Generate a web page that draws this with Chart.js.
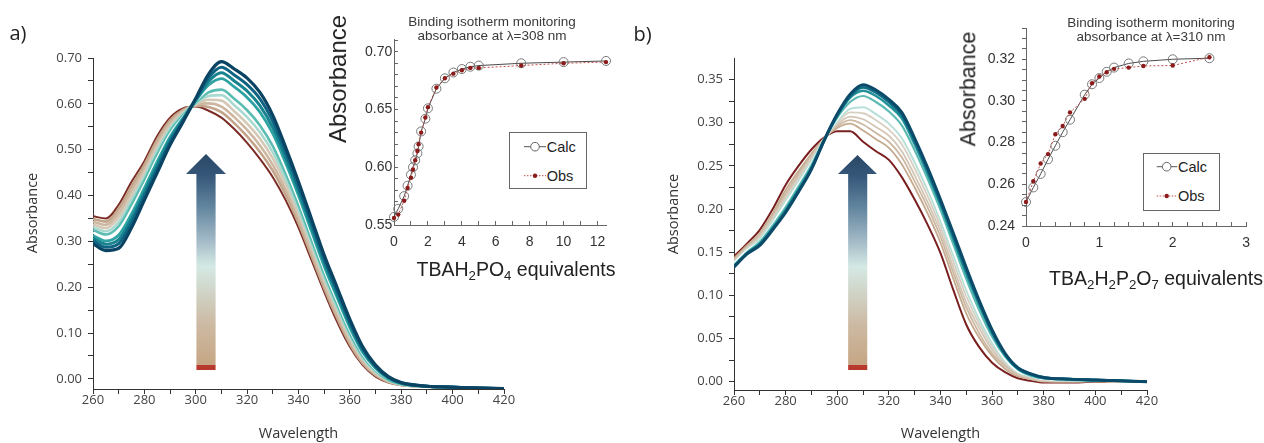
<!DOCTYPE html>
<html>
<head>
<meta charset="utf-8">
<script src="https://cdn.jsdelivr.net/npm/chart.js@4.4.1/dist/chart.umd.min.js"></script>
<style>
  html, body { margin: 0; padding: 0; background: #fff; }
  #fig { position: relative; width: 1264px; height: 443px; overflow: hidden; }
  #fig canvas { position: absolute; top: 0; }
  .t { position: absolute; white-space: nowrap; line-height: 1; transform: translate(-50%, -50%); }
  .r { transform: translate(-50%, -50%) rotate(-90deg); }
  .os { font-family: "Open Sans", sans-serif; color: #333; }
  .ls { font-family: "Liberation Sans", Arial, sans-serif; color: #222; }
  .s { font-size: 0.68em; position: relative; top: 0.32em; }
  .arrow { position: absolute;
    background: linear-gradient(to top, #b83a2e 0, #b83a2e 2.3%, #c6a684 2.5%, #cdbba5 22%, #d4e9e4 48%, #a3bac7 60%, #6487a0 75%, #36577a 90%, #2a4866 100%); }
  .leg { position: absolute; border: 1px solid #666; background: #fff; box-sizing: border-box; }
  .leg span { position: absolute; font: 14.5px "Liberation Sans", Arial, sans-serif; color: #222; line-height: 16px; }
</style>
</head>
<body>
<div id="fig">
  <canvas id="mainA" width="530" height="443" style="left:0"></canvas>
  <canvas id="mainB" width="530" height="443" style="left:640px"></canvas>
  <canvas id="insetA" width="310" height="290" style="left:320px"></canvas>
  <canvas id="insetB" width="309" height="300" style="left:955px"></canvas>

  <div class="arrow" style="left:186px;top:154px;width:40px;height:216px;clip-path:polygon(50% 0,100% 9.3%,74% 9.3%,74% 100%,26% 100%,26% 9.3%,0 9.3%)"></div>
  <div class="arrow" style="left:838px;top:155px;width:39px;height:215px;clip-path:polygon(50% 0,100% 8.8%,75% 8.8%,75% 100%,26% 100%,26% 8.8%,0 8.8%)"></div>

  <div class="t os" style="left:18px;top:32.5px;font-size:20px;color:#222">a)</div>
  <div class="t os" style="left:642.5px;top:34px;font-size:20px;color:#222">b)</div>
  <div class="t r os" style="left:32px;top:212.5px;font-size:14.5px">Absorbance</div>
  <div class="t r os" style="left:673px;top:214px;font-size:14.5px">Absorbance</div>

  <div class="t ls" style="left:492px;top:28.3px;font-size:13.5px;line-height:13.3px;text-align:center;color:#3a3a3a">Binding isotherm monitoring<br>absorbance at λ=308 nm</div>
  <div class="t ls" style="left:1151px;top:29.7px;font-size:13.5px;line-height:14px;text-align:center;color:#3a3a3a">Binding isotherm monitoring<br>absorbance at λ=310 nm</div>
  <div class="t r ls" style="left:338px;top:79px;font-size:24px">Absorbance</div>
  <div class="t r ls" style="left:969px;top:89px;font-size:21.5px">Absorbance</div>
  <div class="t ls" style="left:516px;top:270px;font-size:19.5px">TBAH<span class="s">2</span>PO<span class="s">4</span> equivalents</div>
  <div class="t ls" style="left:1156px;top:279px;font-size:19.5px">TBA<span class="s">2</span>H<span class="s">2</span>P<span class="s">2</span>O<span class="s">7</span> equivalents</div>

  <div class="leg" style="left:509px;top:132px;width:78px;height:57px">
    <svg width="76" height="55" style="position:absolute;left:0;top:0">
      <line x1="14" y1="13.7" x2="36" y2="13.7" stroke="#555" stroke-width="1"/>
      <circle cx="25" cy="13.7" r="4.3" fill="#fff" stroke="#666" stroke-width="1"/>
      <line x1="14" y1="42.7" x2="36" y2="42.7" stroke="#c0504d" stroke-width="1" stroke-dasharray="1.5,1.5"/>
      <circle cx="25" cy="42.7" r="2.2" fill="#8b1a1a"/>
    </svg>
    <span style="left:36.7px;top:5.7px">Calc</span>
    <span style="left:36.7px;top:34.7px">Obs</span>
  </div>
  <div class="leg" style="left:1143px;top:153px;width:77px;height:58px">
    <svg width="75" height="56" style="position:absolute;left:0;top:0">
      <line x1="12.7" y1="12.7" x2="33.3" y2="12.7" stroke="#555" stroke-width="1"/>
      <circle cx="22.7" cy="12.7" r="4.3" fill="#fff" stroke="#666" stroke-width="1"/>
      <line x1="12.7" y1="42" x2="33.3" y2="42" stroke="#c0504d" stroke-width="1" stroke-dasharray="1.5,1.5"/>
      <circle cx="22.7" cy="42" r="2.2" fill="#8b1a1a"/>
    </svg>
    <span style="left:34px;top:4.7px">Calc</span>
    <span style="left:34px;top:34px">Obs</span>
  </div>
</div>

<script>
// wavelength grid (nm) shared by all spectra
var WL = [260, 265, 270, 275, 280, 285, 290, 295, 300, 305, 310, 315, 320, 325, 330, 335, 340, 345, 350, 355, 360, 365, 370, 375, 380, 390, 400, 410, 420];

// panel a spectra, first addition (bottom at 310 nm) to last
var specA0 = [.355, .350, .380, .430, .475, .530, .570, .590, .594, .585, .570, .545, .515, .480, .440, .390, .330, .260, .190, .125, .070, .030, .005, -.008, -.014, -.017, -.019, -.020, -.021];
var specA1 = [.349, .343, .371, .420, .467, .522, .564, .587, .596, .593, .582, .558, .529, .495, .454, .402, .340, .269, .198, .133, .076, .034, .008, -.007, -.013, -.017, -.019, -.020, -.021];
var specA2 = [.343, .336, .361, .410, .458, .514, .558, .584, .598, .601, .594, .571, .543, .509, .467, .413, .350, .278, .206, .140, .082, .038, .010, -.005, -.013, -.017, -.019, -.020, -.021];
var specA3 = [.337, .329, .352, .400, .450, .506, .552, .581, .599, .609, .607, .584, .557, .524, .481, .425, .360, .287, .214, .148, .088, .042, .013, -.004, -.012, -.017, -.019, -.020, -.021];
var specA4 = [.331, .322, .342, .390, .441, .498, .546, .578, .601, .617, .619, .597, .571, .538, .494, .436, .370, .296, .222, .155, .094, .046, .015, -.003, -.012, -.017, -.018, -.020, -.021];
var specA5 = [.325, .315, .333, .380, .433, .490, .540, .575, .603, .625, .631, .611, .586, .553, .508, .448, .380, .305, .230, .163, .100, .050, .018, -.002, -.011, -.016, -.018, -.020, -.021];
var specA6 = [.319, .308, .323, .370, .424, .482, .534, .572, .605, .633, .643, .624, .600, .567, .521, .459, .390, .314, .238, .170, .106, .054, .020, .000, -.010, -.016, -.018, -.020, -.021];
var specA7 = [.313, .301, .314, .360, .416, .474, .528, .569, .607, .641, .655, .637, .614, .582, .535, .471, .400, .323, .246, .178, .112, .058, .023, .001, -.010, -.016, -.018, -.020, -.021];
var specA8 = [.307, .294, .304, .350, .407, .466, .522, .566, .608, .649, .668, .650, .628, .596, .548, .482, .410, .332, .254, .185, .118, .062, .025, .002, -.009, -.016, -.018, -.020, -.021];
var specA9 = [.301, .287, .295, .340, .399, .458, .516, .563, .610, .657, .680, .663, .642, .611, .562, .494, .420, .341, .262, .193, .124, .066, .028, .004, -.009, -.016, -.018, -.020, -.021];
var specA10 = [.295, .280, .285, .330, .390, .450, .510, .560, .612, .665, .692, .676, .656, .625, .575, .505, .430, .350, .270, .200, .130, .070, .030, .005, -.008, -.016, -.018, -.020, -.021];

// panel b spectra
var specB0 = [.145, .160, .176, .200, .228, .250, .269, .283, .290, .290, .278, .267, .257, .237, .211, .182, .149, .106, .066, .040, .022, .011, .004, .001, -.001, -.001, .000, .000, .000];
var specB1 = [.143, .158, .172, .195, .222, .244, .264, .282, .294, .299, .291, .281, .271, .252, .225, .195, .161, .119, .079, .051, .030, .015, .006, .003, .000, .000, .000, .000, .000];
var specB2 = [.141, .156, .171, .193, .218, .241, .262, .282, .296, .303, .298, .288, .278, .260, .232, .202, .168, .126, .086, .056, .033, .018, .008, .003, .001, .000, .001, .000, .000];
var specB3 = [.140, .155, .169, .190, .215, .238, .260, .282, .298, .307, .304, .295, .285, .267, .239, .208, .174, .132, .092, .062, .037, .020, .009, .004, .001, .001, .001, .000, .000];
var specB4 = [.139, .154, .167, .188, .212, .235, .258, .282, .300, .312, .311, .303, .292, .275, .247, .215, .180, .139, .099, .067, .041, .022, .010, .005, .002, .001, .001, .000, .000];
var specB5 = [.138, .153, .165, .186, .209, .232, .255, .281, .302, .316, .318, .310, .299, .282, .254, .222, .186, .146, .106, .072, .045, .024, .011, .006, .003, .001, .001, .001, .000];
var specB6 = [.137, .152, .163, .183, .206, .229, .253, .281, .304, .320, .324, .317, .306, .290, .261, .228, .192, .152, .112, .078, .049, .026, .012, .007, .003, .002, .001, .001, .000];
var specB7 = [.135, .150, .162, .181, .202, .226, .251, .281, .306, .324, .331, .324, .313, .297, .268, .235, .199, .159, .119, .083, .052, .029, .014, .007, .004, .002, .001, .001, .000];
var specB8 = [.134, .149, .160, .178, .199, .223, .248, .280, .308, .329, .337, .331, .320, .305, .275, .241, .205, .165, .125, .089, .056, .031, .015, .008, .004, .003, .002, .001, .000];
var specB9 = [.133, .148, .159, .177, .197, .221, .247, .280, .309, .331, .341, .335, .324, .309, .279, .245, .208, .169, .129, .092, .058, .032, .016, .009, .005, .003, .002, .001, .000];
var specB10 = [.133, .148, .158, .176, .196, .220, .246, .280, .310, .333, .344, .338, .327, .312, .282, .248, .211, .172, .132, .094, .060, .033, .016, .009, .005, .003, .002, .001, .000];

// binding isotherms
var eqA = [0, 0.25, 0.6, 0.8, 1.0, 1.12, 1.25, 1.38, 1.45, 1.6, 1.85, 2.0, 2.5, 3.0, 3.5, 4.0, 4.5, 5.0, 7.5, 10, 12.5];
var calcA = [0.557, 0.564, 0.575, 0.584, 0.5935, 0.600, 0.606, 0.612, 0.618, 0.631, 0.642, 0.651, 0.668, 0.677, 0.682, 0.685, 0.687, 0.688, 0.690, 0.691, 0.692];
var obsA = [0.556, 0.559, 0.571, 0.582, 0.591, 0.598, 0.606, 0.614, 0.620, 0.630, 0.643, 0.652, 0.669, 0.677, 0.681, 0.684, 0.686, 0.686, 0.688, 0.690, 0.691];
var eqB = [0, 0.1, 0.2, 0.3, 0.4, 0.5, 0.6, 0.8, 0.9, 1.0, 1.1, 1.2, 1.4, 1.6, 2.0, 2.5];
var calcB = [0.2515, 0.2585, 0.265, 0.272, 0.2785, 0.285, 0.291, 0.303, 0.308, 0.311, 0.314, 0.316, 0.318, 0.319, 0.320, 0.3205];
var obsB = [0.2515, 0.2615, 0.270, 0.2745, 0.284, 0.288, 0.2945, 0.301, 0.3085, 0.3117, 0.3138, 0.3154, 0.316, 0.3168, 0.317, 0.321];

// tick positions
var ticksWL = [260, 270, 280, 290, 300, 310, 320, 330, 340, 350, 360, 370, 380, 390, 400, 410, 420];
var ticksMainA = [0, 0.05, 0.1, 0.15, 0.2, 0.25, 0.3, 0.35, 0.4, 0.45, 0.5, 0.55, 0.6, 0.65, 0.7];
var ticksMainB = [0, 0.025, 0.05, 0.075, 0.1, 0.125, 0.15, 0.175, 0.2, 0.225, 0.25, 0.275, 0.3, 0.325, 0.35];
var ticksEqA = [0, 1, 2, 3, 4, 5, 6, 7, 8, 9, 10, 11, 12];
var ticksAbsA = [0.55, 0.56, 0.57, 0.58, 0.59, 0.60, 0.61, 0.62, 0.63, 0.64, 0.65, 0.66, 0.67, 0.68, 0.69, 0.70, 0.71];
var ticksEqB = [0, 0.2, 0.4, 0.6, 0.8, 1, 1.2, 1.4, 1.6, 1.8, 2, 2.2, 2.4, 2.6, 2.8, 3];
var ticksAbsB = [0.24, 0.245, 0.25, 0.255, 0.26, 0.265, 0.27, 0.275, 0.28, 0.285, 0.29, 0.295, 0.30, 0.305, 0.31, 0.315, 0.32, 0.325, 0.33, 0.335];

var COLORS_A = ['#7b2c25', '#c2a58a', '#cdb7a0', '#d6c8b6', '#a9d9cf', '#5cbdb2', '#ffffff', '#2fa3a3', '#17838f', '#0e6482', '#0b4363'];
var WIDTHS_A = [2, 2.6, 2.6, 2.6, 2.6, 2.6, 2, 2.8, 3, 3, 3.2];
var COLORS_B = ['#7a1f1f', '#c4aa8e', '#ccb8a2', '#d3c5b4', '#d8cfc3', '#b9e0d8', '#ffffff', '#5cbab2', '#229298', '#0f6d86', '#0c4a69'];
var WIDTHS_B = [2, 1.8, 1.8, 1.8, 1.8, 2, 2, 2.2, 2.5, 2.8, 3];
var AXIS = '#333';

function setTicks(list) {
  return function (s) { s.ticks = list.map(function (v) { return { value: v }; }); };
}

function spectra(id, rows, colors, widths, yMin, yMax, yTicks, yStep, yW, xH, padR) {
  var sets = rows.map(function (row, i) {
    return { data: WL.map(function (w, j) { return { x: w, y: row[j] }; }),
      borderColor: colors[i], borderWidth: widths[i], pointRadius: 0,
      cubicInterpolationMode: 'monotone', fill: false };
  }).reverse();
  var tickFont = { family: 'Open Sans', size: 13, lineHeight: 1 };
  new Chart(document.getElementById(id), {
    type: 'line',
    data: { datasets: sets },
    options: {
      responsive: false, animation: false, devicePixelRatio: 1, events: [],
      layout: { padding: { left: 0, top: 58, right: padR, bottom: 0 } },
      plugins: { legend: { display: false }, tooltip: { enabled: false } },
      scales: {
        x: { type: 'linear', min: 260, max: 420,
          afterBuildTicks: setTicks(ticksWL), afterFit: function (s) { s.height = xH; },
          grid: { drawOnChartArea: false, tickLength: 5, color: AXIS },
          border: { color: AXIS },
          ticks: { font: tickFont, color: '#444', padding: 0, maxRotation: 0, autoSkip: false,
            callback: function (v) { return v % 20 === 0 ? String(v) : ''; } },
          title: { display: true, text: 'Wavelength', font: { family: 'Open Sans', size: 14.5 }, color: '#333', padding: 0 } },
        y: { min: yMin, max: yMax,
          afterBuildTicks: setTicks(yTicks), afterFit: function (s) { s.width = yW; },
          grid: { drawOnChartArea: false, tickLength: 5, color: AXIS },
          border: { color: AXIS },
          ticks: { font: tickFont, color: '#444', padding: 6, autoSkip: false,
            callback: function (v) { return Math.round(v * 1000) % yStep === 0 ? v.toFixed(2) : ''; } } }
      }
    }
  });
}

function isotherm(id, o) {
  var pts = function (ys) { return o.eq.map(function (e, i) { return { x: e, y: ys[i] }; }); };
  var tickFont = { family: 'Liberation Sans', size: 14, lineHeight: 1 };
  new Chart(document.getElementById(id), {
    type: 'line',
    data: { datasets: [
      { label: 'Obs', data: pts(o.obs), borderColor: '#c0504d', borderWidth: 1, borderDash: [2, 2],
        pointRadius: 2.2, pointBackgroundColor: '#8b1a1a', pointBorderColor: '#8b1a1a', pointBorderWidth: 0, tension: 0, clip: false },
      { label: 'Calc', data: pts(o.calc), borderColor: '#4a4a4a', borderWidth: 1,
        pointRadius: 4.5, pointBackgroundColor: 'rgba(0,0,0,0)', pointBorderColor: '#777', pointBorderWidth: 1, tension: 0, clip: false }
    ] },
    options: {
      responsive: false, animation: false, devicePixelRatio: 1, events: [],
      layout: { padding: { left: 0, top: o.padT, right: o.padR, bottom: 0 } },
      plugins: { legend: { display: false }, tooltip: { enabled: false } },
      scales: {
        x: { type: 'linear', min: 0, max: o.xMax,
          afterBuildTicks: setTicks(o.xTicks), afterFit: function (s) { s.height = o.xH; },
          grid: { drawOnChartArea: false, tickLength: -4, color: '#666' },
          border: { color: '#666' },
          ticks: { font: tickFont, color: '#333', padding: 14, maxRotation: 0, autoSkip: false, callback: o.xLab } },
        y: { min: o.yMin, max: o.yMax,
          afterBuildTicks: setTicks(o.yTicks), afterFit: function (s) { s.width = o.yW; },
          grid: { drawOnChartArea: false, tickLength: o.yTL, color: '#666' },
          border: { color: '#666' },
          ticks: { font: tickFont, color: '#333', padding: o.yPad, autoSkip: false, callback: o.yLab } }
      }
    }
  });
}

spectra('mainA', [specA0, specA1, specA2, specA3, specA4, specA5, specA6, specA7, specA8, specA9, specA10],
  COLORS_A, WIDTHS_A, -0.022, 0.70, ticksMainA, 100, 93, 54, 26);
spectra('mainB', [specB0, specB1, specB2, specB3, specB4, specB5, specB6, specB7, specB8, specB9, specB10],
  COLORS_B, WIDTHS_B, -0.0096, 0.375, ticksMainB, 50, 94, 53, 23);

isotherm('insetA', { eq: eqA, calc: calcA, obs: obsA, xMax: 12.5, xTicks: ticksEqA,
  xLab: function (v) { return v % 2 === 0 ? String(v) : ''; },
  yMin: 0.55, yMax: 0.711, yTicks: ticksAbsA,
  yLab: function (v) { return Math.round(v * 100) % 5 === 0 ? v.toFixed(2) : ''; },
  yTL: -4, yPad: 5.7, yW: 74, xH: 65, padT: 39, padR: 24 });
isotherm('insetB', { eq: eqB, calc: calcB, obs: obsB, xMax: 3, xTicks: ticksEqB,
  xLab: function (v) { return Math.abs(v - Math.round(v)) < 1e-9 ? String(Math.round(v)) : ''; },
  yMin: 0.24, yMax: 0.335, yTicks: ticksAbsB,
  yLab: function (v) { return Math.round(v * 1000) % 20 === 0 ? v.toFixed(2) : ''; },
  yTL: 4, yPad: 7, yW: 71, xH: 74, padT: 28, padR: 7 });
</script>
</body>
</html>
